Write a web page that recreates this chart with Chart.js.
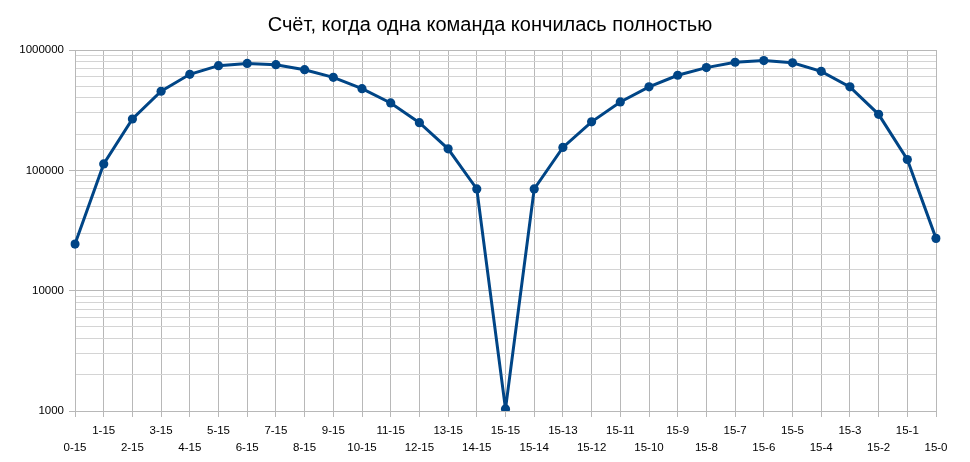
<!DOCTYPE html>
<html>
<head>
<meta charset="utf-8">
<title>Счёт, когда одна команда кончилась полностью</title>
<script src="https://cdn.jsdelivr.net/npm/chart.js@4.4.0/dist/chart.umd.min.js"></script>
<style>
  html, body { margin: 0; padding: 0; background: #fff; }
  #wrap { width: 970px; height: 462px; }
</style>
</head>
<body>
<div id="wrap"><canvas id="scoreChart" width="970" height="462"></canvas></div>
<script>
/* data */

const scoreLabels = [
  '0-15', '1-15', '2-15', '3-15', '4-15', '5-15', '6-15', '7-15',
  '8-15', '9-15', '10-15', '11-15', '12-15', '13-15', '14-15', '15-15',
  '15-14', '15-13', '15-12', '15-11', '15-10', '15-9', '15-8', '15-7',
  '15-6', '15-5', '15-4', '15-3', '15-2', '15-1', '15-0'
];

const scoreCounts = [
  24400, 113000, 267000, 454000, 628000, 741000, 774000, 755000,
  686000, 593000, 477000, 363000, 249000, 151000, 70000, 1040,
  70000, 155000, 253000, 370000, 494000, 617000, 714000, 791000,
  817000, 782000, 665000, 494000, 292000, 123000, 27200
];

const yTickLabels = [1000, 10000, 100000, 1000000];

/* helpers */

function isMajor(v) {
  return yTickLabels.indexOf(Math.round(v)) !== -1;
}

const labelFont = { family: '"Liberation Sans", Arial, sans-serif', size: 11.5, lineHeight: 1.43 };

/* nudge the title box so it sits centred like the original */
const titleShift = {
  id: 'titleShift',
  afterLayout: function(chart) {
    if (chart.titleBlock) {
      chart.titleBlock.left = 44;
    }
  }
};

/* chart */

var ctx = document.getElementById('scoreChart').getContext('2d');

// eslint-disable-next-line no-undef
var chart = new Chart(ctx, {
  type: 'line',
  data: {
    labels: scoreLabels,
    datasets: [{
      label: 'Счёт',
      data: scoreCounts,
      borderColor: '#004586',
      backgroundColor: '#004586',
      borderWidth: 3,
      pointRadius: 4.6,
      pointBackgroundColor: '#004586',
      pointBorderWidth: 0,
      tension: 0,
      fill: false
    }]
  },
  plugins: [titleShift],
  options: {
    responsive: false,
    animation: false,
    layout: { padding: { left: 0, right: 34, top: 0, bottom: 0 } },
    plugins: {
      legend: { display: false },
      tooltip: { enabled: false },
      title: {
        display: true,
        text: 'Счёт, когда одна команда кончилась полностью',
        color: '#000',
        font: { family: '"Liberation Sans", Arial, sans-serif', size: 20, weight: 'normal', lineHeight: 1.2 },
        padding: { top: 13, bottom: 13 }
      }
    },
    scales: {
      x: {
        type: 'category',
        offset: false,
        grid: {
          offset: false,
          color: '#b8b8b8',
          tickColor: '#b8b8b8',
          tickLength: 6,
          lineWidth: 1
        },
        border: { color: '#b8b8b8' },
        ticks: {
          autoSkip: false,
          maxRotation: 0,
          minRotation: 0,
          padding: 6,
          color: '#000',
          font: labelFont,
          callback: function(value, index) {
            const text = scoreLabels[index];
            return index % 2 ? [text] : ['', text];
          }
        },
        afterFit: function(scale) {
          scale.height = 51;
        }
      },
      y: {
        type: 'logarithmic',
        min: 1000,
        max: 1000000,
        grid: {
          color: function(c) {
            return c.tick && isMajor(c.tick.value) ? '#b8b8b8' : '#d4d4d4';
          },
          tickColor: function(c) {
            return c.tick && isMajor(c.tick.value) ? '#b8b8b8' : 'rgba(0,0,0,0)';
          },
          tickLength: 6,
          lineWidth: 1
        },
        border: { color: '#b8b8b8' },
        ticks: {
          autoSkip: false,
          padding: 5,
          color: '#000',
          font: labelFont,
          callback: function(value) {
            return isMajor(value) ? String(Math.round(value)) : '';
          }
        },
        afterFit: function(scale) {
          scale.width = 75;
        }
      }
    }
  }
});
</script>
</body>
</html>
